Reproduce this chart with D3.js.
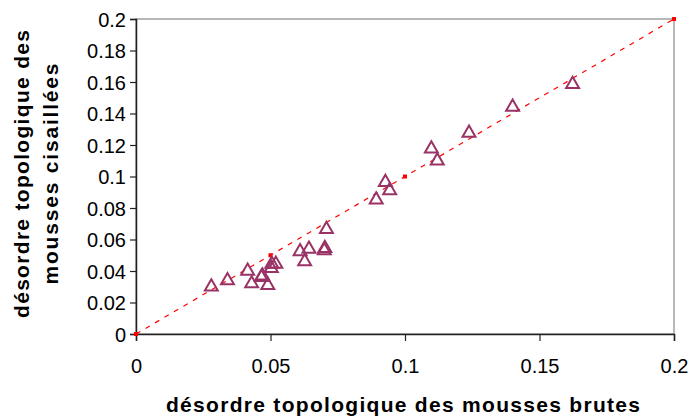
<!DOCTYPE html>
<html><head><meta charset="utf-8">
<script src="https://cdn.jsdelivr.net/npm/d3@7"></script>
<style>
html,body{margin:0;padding:0;background:#fff;}
svg{display:block;font-family:"Liberation Sans",Arial,sans-serif;}
</style></head>
<body>
<script>
// Data
const brutes = [0.028,0.034,0.0415,0.043,0.0466,0.047,0.049,0.0505,0.0503,0.052,0.061,0.0643,0.0627,0.070,0.0702,0.0708,0.0893,0.0927,0.0943,0.1098,0.112,0.1238,0.140,0.1623];
const cisaillees = [0.030,0.034,0.040,0.032,0.036,0.037,0.031,0.0444,0.0418,0.0444,0.0524,0.054,0.046,0.053,0.0545,0.0665,0.0852,0.0964,0.0911,0.1176,0.110,0.1276,0.1441,0.1586];
const refLine = [0,0.05,0.1,0.2];
const xTicks = [0,0.05,0.1,0.15,0.2];
const yTicks = [0,0.02,0.04,0.06,0.08,0.1,0.12,0.14,0.16,0.18,0.2];
const xTitle = "désordre topologique des mousses brutes";
const yTitle = ["désordre topologique des","mousses cisaillées"];

const W=690,H=419;
const svg=d3.select("body").append("svg").attr("width",W).attr("height",H);
const x=d3.scaleLinear().domain([0,0.2]).range([136,674]);
const y=d3.scaleLinear().domain([0,0.2]).range([334,19]);

// plot border (top/right)
svg.append("rect").attr("x",x(0)).attr("y",y(0.2)).attr("width",x(0.2)-x(0)).attr("height",y(0)-y(0.2))
  .attr("fill","none").attr("stroke","#a0a0a0").attr("stroke-width",1.5);

// axes
const yAxis=svg.append("g").attr("transform",`translate(${x(0)},0)`)
  .call(d3.axisLeft(y).tickValues(yTicks).tickSize(6).tickPadding(4).tickFormat(d=>String(+d.toFixed(2))));
const xAxis=svg.append("g").attr("transform",`translate(0,${y(0)})`)
  .call(d3.axisBottom(x).tickValues(xTicks).tickSize(7).tickPadding(18).tickFormat(d=>String(+d.toFixed(2))));
[yAxis,xAxis].forEach(g=>{
  g.select(".domain").attr("stroke","#222").attr("stroke-width",1.5);
  g.selectAll(".tick line").attr("stroke","#222").attr("stroke-width",1.2);
  g.selectAll("text").attr("font-family","'Liberation Sans',Arial,sans-serif").attr("font-size",20).attr("fill","#000");
});
yAxis.selectAll("text").attr("dy","0.35em");

// reference dashed line
const line=d3.line().x(d=>x(d)).y(d=>y(d));
svg.append("path").datum(refLine).attr("d",line).attr("fill","none")
  .attr("stroke","#ff0000").attr("stroke-width",1.2).attr("stroke-dasharray","5,6");
svg.selectAll("rect.ref").data(refLine).join("rect").attr("class","ref")
  .attr("x",d=>x(d)-2).attr("y",d=>y(d)-2).attr("width",4).attr("height",4).attr("fill","#ff0000");

// triangles
const tri=d3.symbol().type(d3.symbolTriangle).size(72);
svg.selectAll("path.pt").data(d3.range(brutes.length)).join("path").attr("class","pt")
  .attr("d",tri)
  .attr("transform",i=>`translate(${x(brutes[i])},${y(cisaillees[i])})`)
  .attr("fill","none").attr("stroke","#993366").attr("stroke-width",2);

// titles
svg.append("text").attr("x",403).attr("y",412).attr("text-anchor","middle")
  .attr("font-size",21).attr("font-weight","bold")
  .attr("textLength",474).attr("lengthAdjust","spacing").text(xTitle);
const yt=svg.append("text").attr("transform","translate(0,174) rotate(-90)").attr("text-anchor","middle")
  .attr("font-size",21).attr("font-weight","bold");
yt.append("tspan").attr("x",0).attr("y",29).attr("textLength",288).attr("lengthAdjust","spacing").text(yTitle[0]);
yt.append("tspan").attr("x",0).attr("y",58).attr("textLength",221).attr("lengthAdjust","spacing").text(yTitle[1]);
</script>
</body></html>
